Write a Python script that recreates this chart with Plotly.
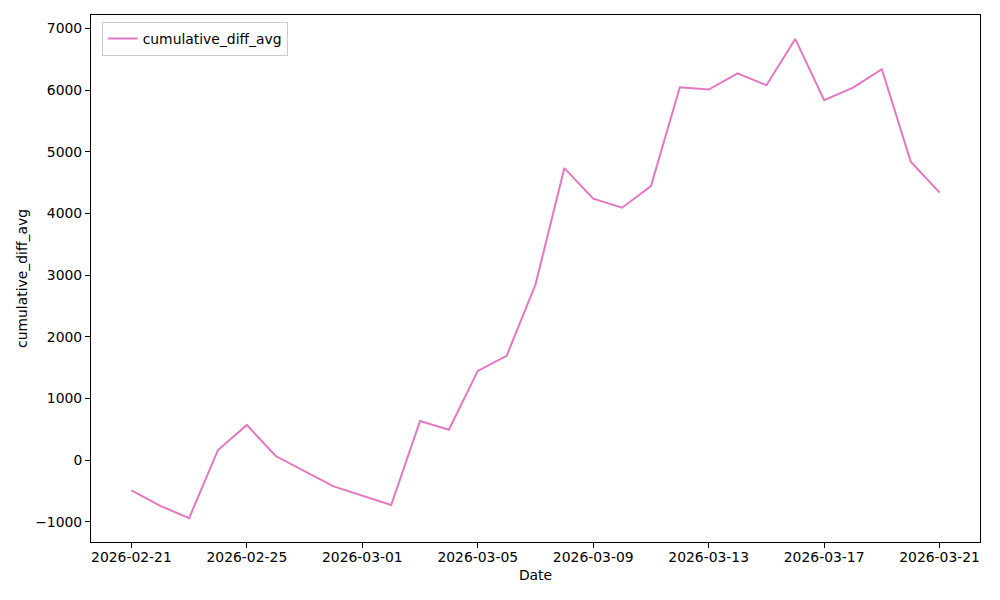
import plotly.graph_objects as go

dates = ["2026-02-21", "2026-02-22", "2026-02-23", "2026-02-24", "2026-02-25",
         "2026-02-26", "2026-02-28", "2026-03-02", "2026-03-03", "2026-03-04",
         "2026-03-05", "2026-03-06", "2026-03-07", "2026-03-08", "2026-03-09",
         "2026-03-10", "2026-03-11", "2026-03-12", "2026-03-13", "2026-03-14",
         "2026-03-15", "2026-03-16", "2026-03-17", "2026-03-18", "2026-03-19",
         "2026-03-20", "2026-03-21"]
values = [-490, -739, -938, 166, 571,
          68, -425, -727, 636, 495,
          1448, 1692, 2849, 4737, 4240,
          4094, 4445, 6047, 6010, 6274,
          6080, 6831, 5836, 6042, 6339,
          4841, 4338]

x_ticks = ["2026-02-21", "2026-02-25", "2026-03-01", "2026-03-05",
           "2026-03-09", "2026-03-13", "2026-03-17", "2026-03-21"]
y_ticks = [-1000, 0, 1000, 2000, 3000, 4000, 5000, 6000, 7000]
y_tick_text = ["\u22121000", "0", "1000", "2000", "3000", "4000", "5000", "6000", "7000"]

fig = go.Figure()
fig.add_trace(go.Scatter(
    x=dates, y=values, mode="lines", name="cumulative_diff_avg",
    line=dict(color="#e377c2", width=2),
))

font = dict(family="DejaVu Sans", size=13.9, color="black")
fig.update_layout(
    width=1000, height=600,
    margin=dict(l=83, r=28, t=7, b=66),
    paper_bgcolor="white", plot_bgcolor="white",
    font=font,
    showlegend=True,
    legend=dict(x=0.012, y=0.987, xanchor="left", yanchor="top",
                bgcolor="white", bordercolor="#cccccc", borderwidth=1,
                font=font),
    xaxis=dict(
        type="date",
        range=["2026-02-19 14:24", "2026-03-22 09:36"],
        tickvals=x_ticks, ticktext=x_ticks,
        showgrid=False, zeroline=False,
        showline=True, linecolor="black", linewidth=1, mirror=True,
        ticks="outside", ticklen=5, tickcolor="black",
        ticklabelstandoff=-3,
        title=dict(text="Date", font=font, standoff=6),
    ),
    yaxis=dict(
        range=[-1326, 7219],
        tickvals=y_ticks, ticktext=y_tick_text,
        showgrid=False, zeroline=False,
        showline=True, linecolor="black", linewidth=1, mirror=True,
        ticks="outside", ticklen=5, tickcolor="black",
        title=dict(text="cumulative_diff_avg", font=font, standoff=4),
    ),
)

fig.write_html("out.html")
